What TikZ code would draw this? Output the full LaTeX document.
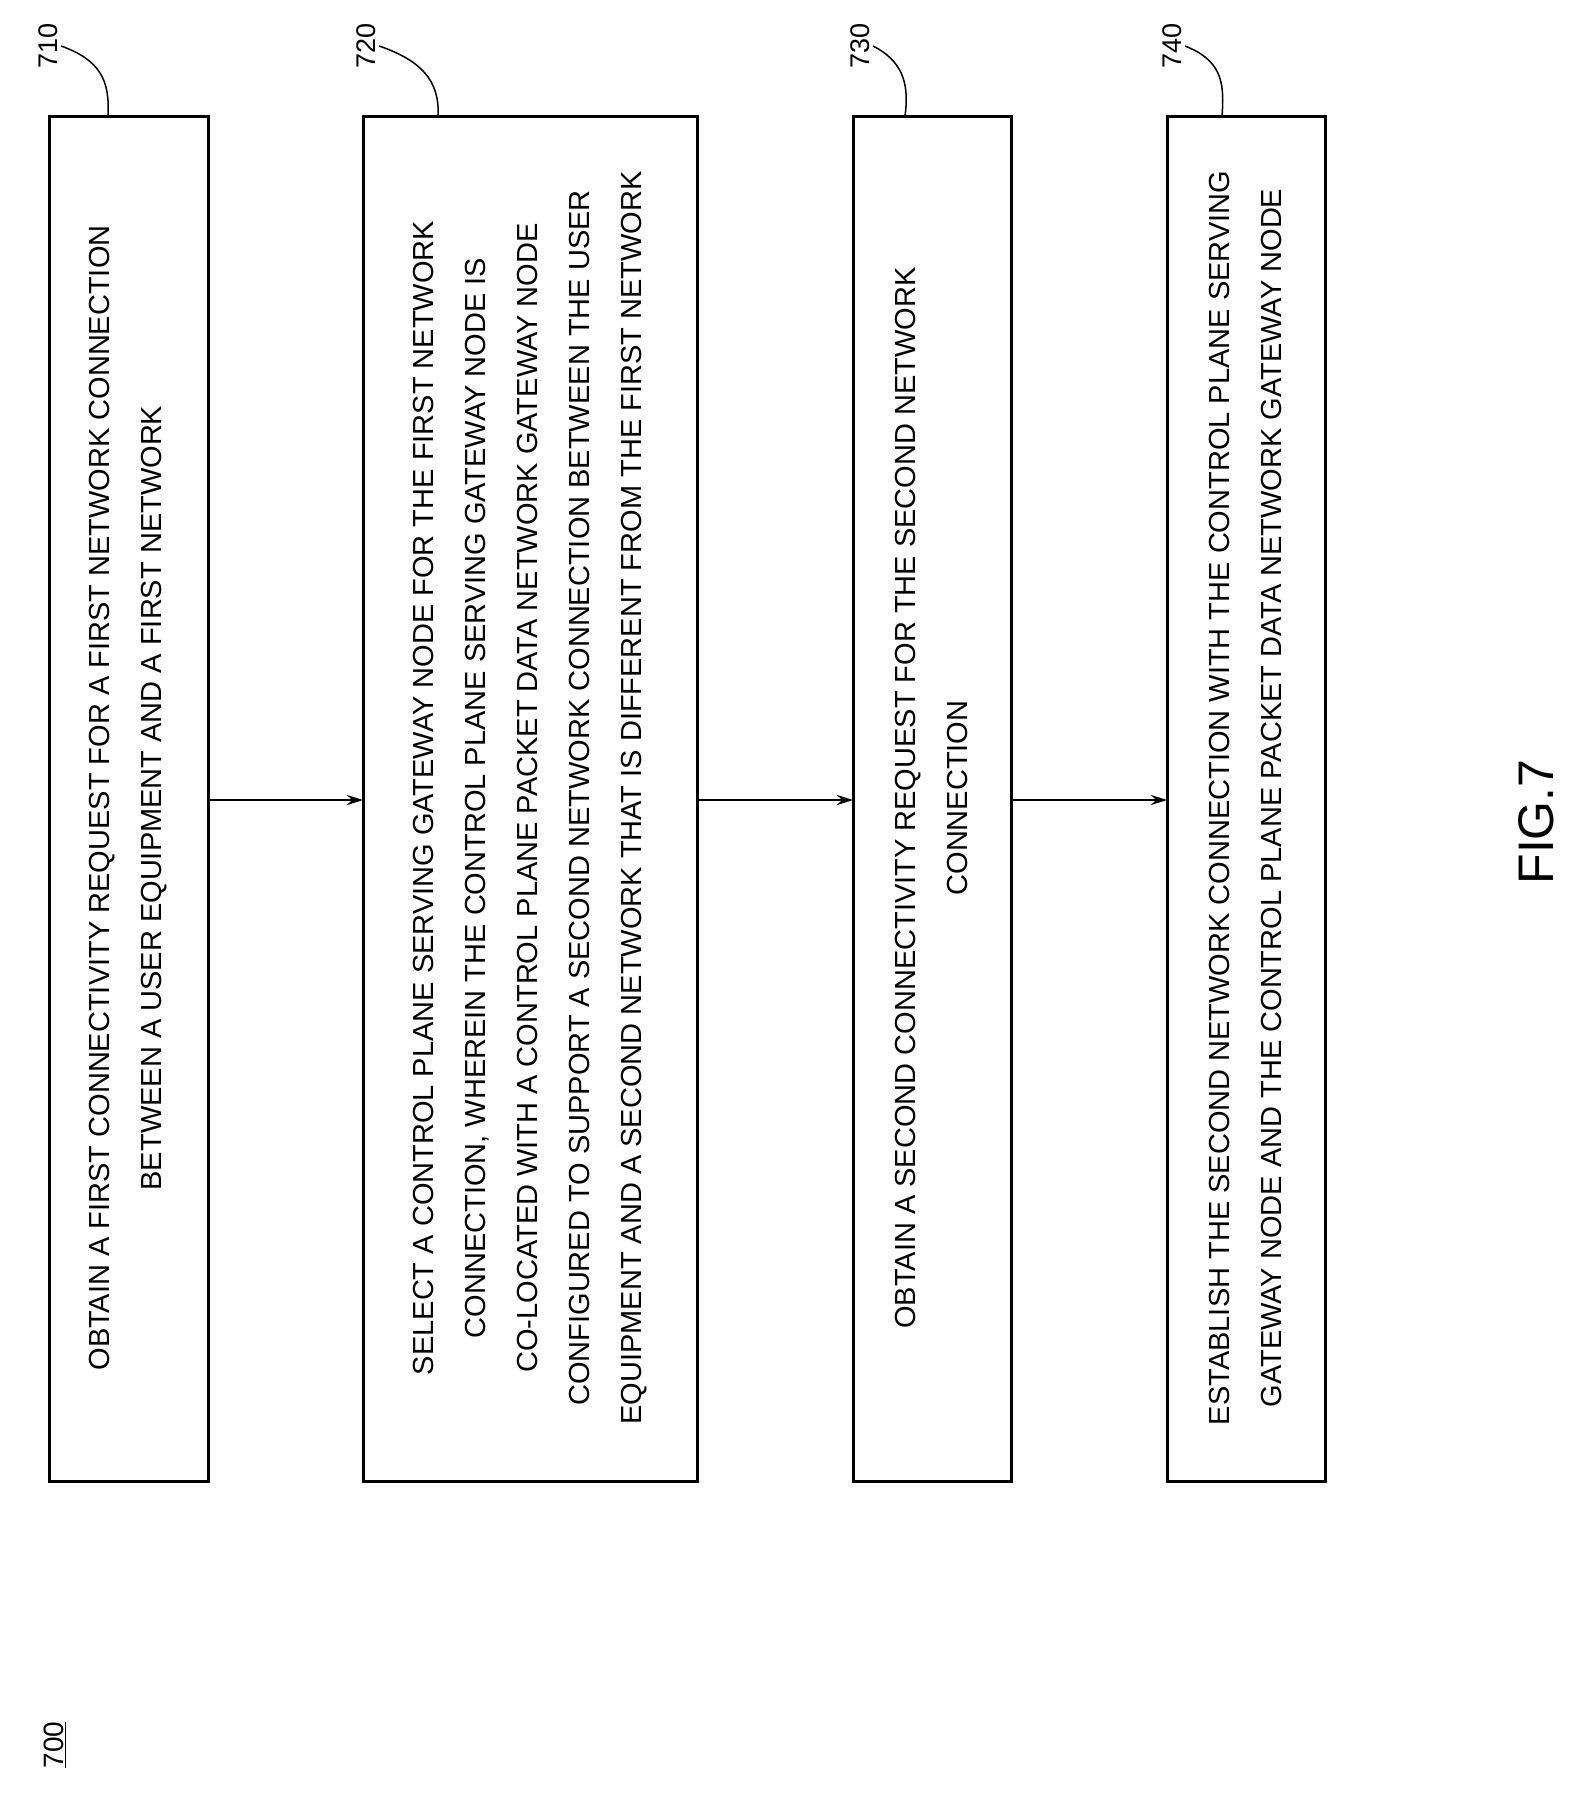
\documentclass[tikz,border=0pt]{standalone}
\usepackage{fontspec}
\setmainfont{Liberation Sans}
\usetikzlibrary{positioning,arrows.meta}
\tikzset{>=stealth}
\tikzset{
	% step boxes
	steptext/.style={rotate=90,align=center,font=\fontsize{29}{52}\selectfont},
	reflabel/.style={rotate=90,font=\fontsize{27}{27}\selectfont},
	flow/.style={-{Stealth[length=16pt,width=10pt]},line width=2.5pt},
}
\begin{document}
\begin{tikzpicture}[x=1pt,y=-1pt]
\useasboundingbox (0,0) rectangle (1576,1794);
% the boxes
\draw[line width=3pt] (49,116) rectangle (208,1481);
\draw[line width=3pt] (363,116) rectangle (697,1481);
\draw[line width=3pt] (853,116) rectangle (1011,1481);
\draw[line width=3pt] (1167,116) rectangle (1325,1481);
\coordinate (b710r) at (208,800);
\coordinate (b720l) at (363,800);
\coordinate (b720r) at (697,800);
\coordinate (b730l) at (853,800);
\coordinate (b730r) at (1011,800);
\coordinate (b740l) at (1167,800);
% the texts
\node[steptext] (t710) at (128.5,798) {OBTAIN A FIRST CONNECTIVITY REQUEST FOR A FIRST NETWORK CONNECTION\\BETWEEN A USER EQUIPMENT AND A FIRST NETWORK};
\node[steptext] (t720) at (530,798) {SELECT A CONTROL PLANE SERVING GATEWAY NODE FOR THE FIRST NETWORK\\CONNECTION, WHEREIN THE CONTROL PLANE SERVING GATEWAY NODE IS\\CO-LOCATED WITH A CONTROL PLANE PACKET DATA NETWORK GATEWAY NODE\\CONFIGURED TO SUPPORT A SECOND NETWORK CONNECTION BETWEEN THE USER\\EQUIPMENT AND A SECOND NETWORK THAT IS DIFFERENT FROM THE FIRST NETWORK};
\node[steptext] (t730) at (932,798) {OBTAIN A SECOND CONNECTIVITY REQUEST FOR THE SECOND NETWORK\\CONNECTION};
\node[steptext] (t740) at (1246,798) {ESTABLISH THE SECOND NETWORK CONNECTION WITH THE CONTROL PLANE SERVING\\GATEWAY NODE AND THE CONTROL PLANE PACKET DATA NETWORK GATEWAY NODE};
% the arrows
\draw[flow] (b710r) -- (b720l);
\draw[flow] (b720r) -- (b730l);
\draw[flow] (b730r) -- (b740l);
% reference numerals
\node[reflabel] (l710) at (48,46) {710};
\node[reflabel] (l720) at (366,46) {720};
\node[reflabel] (l730) at (860,46) {730};
\node[reflabel] (l740) at (1172,46) {740};
\draw[line width=1.5pt] (l710.south) .. controls (100,60) and (110,80) .. (108,116);
\draw[line width=1.5pt] (l720.south) .. controls (420,60) and (440,80) .. (438,116);
\draw[line width=1.5pt] (l730.south) .. controls (900,60) and (910,80) .. (905,116);
\draw[line width=1.5pt] (l740.south) .. controls (1220,60) and (1225,80) .. (1222,116);
\node[reflabel,font=\fontsize{28}{28}\selectfont] (l700) at (55,1745) {\underline{700}};
\node[rotate=90,font=\fontsize{50}{50}\selectfont] (fig) at (1536,822) {FIG.7};
\end{tikzpicture}
\end{document}
